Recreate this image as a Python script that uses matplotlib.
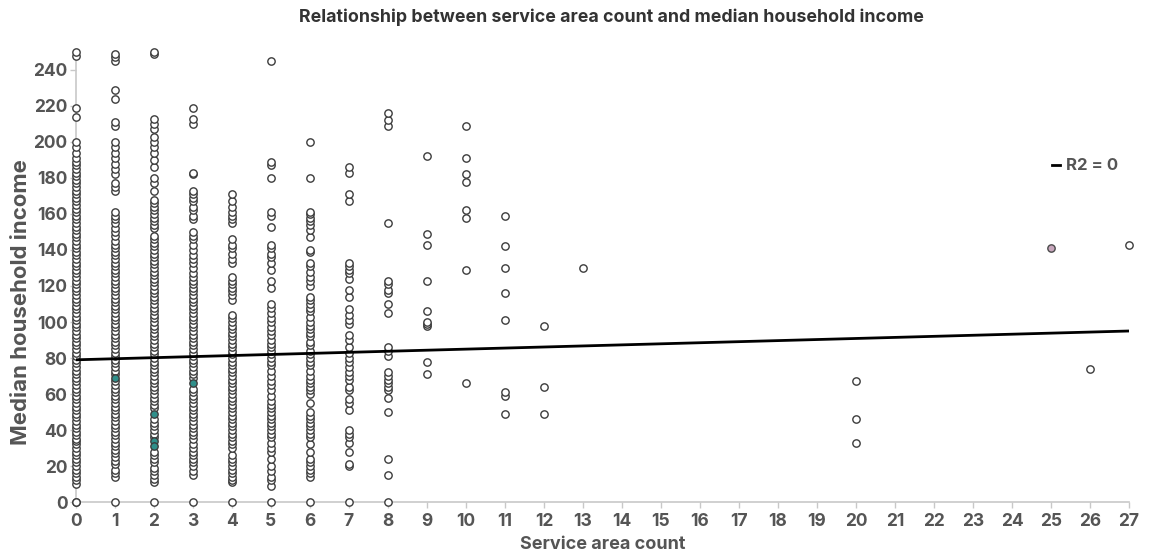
import numpy as np
import matplotlib
matplotlib.use("Agg")
import matplotlib.pyplot as plt

# Median household income (thousands) grouped by service area count
income_0 = [0, 0, 10, 12, 14, 16, 18, 20, 22, 24, 26, 28, 30, 32, 34, 35, 37, 39, 41, 43, 45,
            47, 49, 51, 53, 55, 57, 59, 61, 63, 65, 67, 69, 71, 73, 75, 77, 79, 81, 83, 85,
            87, 89, 91, 93, 95, 97, 99, 101, 103, 105, 107, 109, 111, 113, 115, 117, 119,
            121, 123, 125, 127, 129, 131, 133, 135, 137, 139, 141, 143, 145, 147, 149, 151,
            153, 155, 157, 159, 161, 163, 165, 167, 169, 171, 173, 175, 177, 179, 181, 183,
            185, 187, 189, 191, 194, 197, 200, 214, 219, 248, 250]
income_1 = [0, 14, 16, 18, 21, 23, 25, 27, 29, 31, 33, 35, 37, 39, 41, 43, 45, 47, 49, 51, 53,
            55, 57, 59, 61, 63, 65, 67, 71, 73, 75, 77, 79, 81, 83, 85, 87, 89, 91, 93, 95,
            97, 99, 101, 103, 105, 107, 109, 111, 113, 115, 117, 119, 121, 123, 125, 127,
            129, 131, 133, 135, 137, 139, 141, 143, 145, 148, 150, 152, 155, 157, 159, 161,
            173, 175, 177, 182, 185, 188, 191, 194, 197, 200, 209, 211, 224, 229, 245, 247, 249]
income_2 = [0, 11, 13, 15, 17, 19, 22, 24, 26, 28, 36, 38, 40, 42, 44, 46, 52, 54, 56, 58,
            60, 62, 64, 66, 68, 70, 72, 74, 76, 78, 80, 82, 84, 86, 88, 90, 92, 94, 96, 98,
            100, 102, 104, 106, 108, 110, 112, 114, 116, 118, 120, 122, 124, 126, 128, 130,
            132, 134, 136, 138, 140, 142, 144, 146, 148, 152, 154, 156, 158, 160, 162, 164,
            166, 168, 173, 177, 180, 186, 190, 194, 197, 200, 203, 207, 210, 213, 249, 250]
income_3 = [0, 15, 17, 20, 22, 24, 26, 28, 30, 32, 35, 37, 39, 41, 43, 45, 47, 49, 51, 53,
            55, 57, 59, 61, 63, 69, 71, 73, 75, 77, 79, 81, 83, 85, 87, 89, 91, 93, 95, 97,
            99, 101, 103, 105, 107, 109, 111, 113, 115, 117, 119, 121, 123, 125, 127, 130,
            133, 135, 137, 140, 143, 146, 148, 150, 157, 159, 162, 164, 167, 169, 171, 173,
            182, 183, 210, 213, 219]
income_4 = [0, 11, 12, 14, 16, 18, 20, 22, 24, 26, 30, 32, 34, 36, 38, 40, 42, 44, 46, 48,
            50, 52, 54, 56, 58, 60, 62, 64, 66, 68, 70, 72, 74, 76, 78, 80, 82, 84, 86, 88,
            90, 92, 94, 96, 98, 100, 102, 104, 112, 115, 117, 119, 121, 123, 125, 133, 135,
            138, 141, 143, 146, 155, 157, 159, 161, 164, 167, 171]
income_5 = [0, 9, 12, 14, 17, 20, 24, 28, 30, 33, 36, 38, 40, 42, 44, 46, 48, 50, 52, 54,
            56, 59, 62, 65, 67, 70, 73, 76, 78, 80, 82, 84, 86, 88, 90, 93, 95, 97, 100, 102,
            105, 108, 110, 119, 123, 129, 133, 136, 138, 141, 143, 153, 159, 161, 180, 187,
            189, 245]
income_6 = [0, 14, 16, 18, 20, 22, 24, 28, 32, 36, 38, 40, 42, 44, 46, 48, 50, 55, 60, 62,
            64, 66, 68, 70, 73, 76, 78, 80, 82, 84, 87, 89, 92, 94, 96, 98, 100, 103, 106,
            108, 110, 112, 114, 120, 123, 125, 128, 131, 133, 139, 140, 147, 151, 154, 156,
            158, 160, 161, 180, 200]
income_7 = [0, 20, 21, 28, 33, 36, 38, 40, 51, 55, 57, 62, 64, 68, 70, 72, 75, 78, 80, 83,
            86, 90, 93, 99, 101, 104, 107, 114, 118, 124, 127, 129, 131, 133, 167, 171, 183, 186]
income_8 = [0, 15, 24, 50, 58, 62, 64, 66, 68, 70, 72, 81, 84, 86, 105, 110, 116, 118, 121,
            123, 155, 209, 212, 216]
income_9 = [71, 78, 98, 99, 100, 106, 123, 143, 149, 192]
income_10 = [66, 129, 158, 162, 178, 182, 191, 209]
income_11 = [49, 59, 61, 101, 116, 130, 142, 159]
income_12 = [49, 64, 98]
income_13 = [130]
income_20 = [33, 46, 67]
income_25 = [141]
income_26 = [74]
income_27 = [143]

# Tinted observations (service area count, income)
tinted_teal_x = [1, 2, 2, 2, 3]
tinted_teal_y = [69, 49, 34, 31, 66]

# Fitted trend line endpoints
trend_x = [0, 27]
trend_y = [79, 95]
trend_label = "R2 = 0"

groups = {0: income_0, 1: income_1, 2: income_2, 3: income_3, 4: income_4, 5: income_5,
          6: income_6, 7: income_7, 8: income_8, 9: income_9, 10: income_10, 11: income_11,
          12: income_12, 13: income_13, 20: income_20, 26: income_26, 27: income_27}

x_ticks = list(range(0, 28))
y_ticks = list(range(0, 241, 20))

plt.rcParams["font.family"] = ["Inter", "DejaVu Sans"]

fig = plt.figure(figsize=(11.5, 5.56), dpi=100)
ax = fig.add_axes([0.066, 0.0971, 0.9157, 0.8094])

xs, ys = [], []
for k, vals in groups.items():
    xs.extend([k] * len(vals))
    ys.extend(vals)

ax.scatter(xs, ys, s=28, facecolors="white", edgecolors="#3c3c3c", linewidths=1.0,
           zorder=3, clip_on=False)
ax.scatter([25] * len(income_25), income_25, s=28, facecolors="#c8a7bd",
           edgecolors="#4a4a4a", linewidths=1.0, zorder=3, clip_on=False)
ax.scatter(tinted_teal_x, tinted_teal_y, s=28, facecolors="#2f8f8a",
           edgecolors="#3c3c3c", linewidths=1.0, zorder=4, clip_on=False)

ax.plot(trend_x, trend_y, color="black", lw=2.0, zorder=5, label=trend_label)

ax.set_xlim(0, 27)
ax.set_ylim(0, 250)
ax.set_xticks(x_ticks)
ax.set_yticks(y_ticks)
ax.tick_params(axis="both", colors="#c8c8c8", labelcolor="#555555", labelsize=12.5,
               length=4, width=1)
ax.tick_params(axis="x", pad=4)
ax.tick_params(axis="y", pad=2)
for lbl in ax.get_xticklabels() + ax.get_yticklabels():
    lbl.set_fontweight("bold")

for side in ["top", "right"]:
    ax.spines[side].set_visible(False)
for side in ["left", "bottom"]:
    ax.spines[side].set_color("#c8c8c8")
    ax.spines[side].set_linewidth(1.2)

ax.set_xlabel("Service area count", fontsize=13, fontweight="bold", color="#555555",
              labelpad=4)
ax.set_ylabel("Median household income", fontsize=16, fontweight="bold", color="#555555")
ax.yaxis.set_label_coords(-0.043, 0.445)
fig.suptitle("Relationship between service area count and median household income",
             x=0.532, y=0.985, fontsize=12.8, fontweight="bold", color="#333333")

leg = ax.legend(loc="center right", bbox_to_anchor=(1.004, 0.747), frameon=False,
                handlelength=0.5, handletextpad=0.35, fontsize=12)
for t in leg.get_texts():
    t.set_fontweight("bold")
    t.set_color("#555555")

fig.savefig("out.png", dpi=100)
